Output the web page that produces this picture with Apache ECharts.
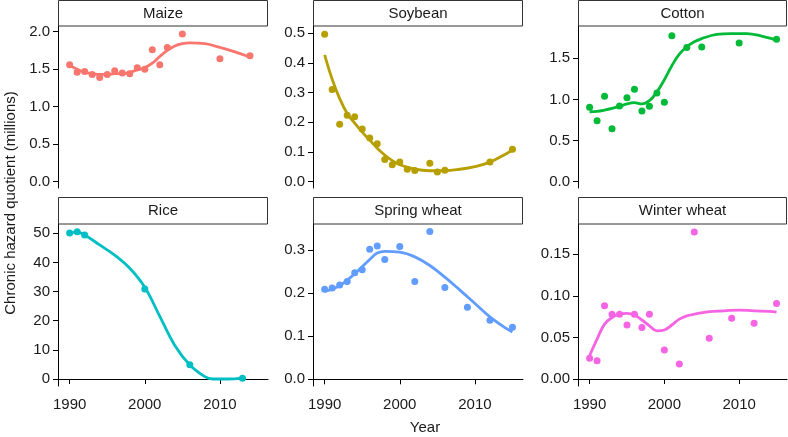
<!DOCTYPE html>
<html>
<head>
<meta charset="utf-8">
<script src="https://cdn.jsdelivr.net/npm/echarts@6/dist/echarts.min.js"></script>
<style>html,body{margin:0;padding:0;background:#fff;}#c{width:788px;height:437px;}</style>
</head>
<body>
<div id="c"></div>
<script>
// ---- Data ----
const crops = ['Maize', 'Soybean', 'Cotton', 'Rice', 'Spring wheat', 'Winter wheat'];
const colors = ['#F8766D', '#B79F00', '#00BA38', '#00BFC4', '#619CFF', '#F564E3'];
const xTicks = [1990, 2000, 2010];

const maizeYears = [1990,1991,1992,1993,1994,1995,1996,1997,1998,1999,2000,2001,2002,2003,2005,2010,2014];
const maizeValues = [1.56,1.46,1.47,1.43,1.39,1.43,1.48,1.45,1.44,1.52,1.50,1.76,1.56,1.79,1.97,1.64,1.68];
const maizeFitYears = [1990,1991,1992,1993,1994,1995,1996,1997,1998,1999,2000,2001,2002,2003,2004,2005,2006,2008,2010,2012,2014];
const maizeFitValues = [1.55,1.50,1.46,1.44,1.43,1.43,1.44,1.44,1.46,1.49,1.52,1.58,1.67,1.75,1.81,1.84,1.85,1.84,1.79,1.73,1.66];

const soyYears = [1990,1991,1992,1993,1994,1995,1996,1997,1998,1999,2000,2001,2002,2004,2005,2006,2012,2015];
const soyValues = [0.497,0.311,0.194,0.224,0.219,0.178,0.147,0.128,0.075,0.057,0.066,0.042,0.038,0.062,0.033,0.039,0.066,0.109];
const soyFitYears = [1990,1991,1992,1993,1994,1995,1996,1997,1998,1999,2000,2002,2004,2006,2008,2010,2012,2014,2015];
const soyFitValues = [0.427,0.345,0.280,0.230,0.197,0.167,0.140,0.113,0.090,0.071,0.057,0.042,0.037,0.037,0.042,0.051,0.066,0.092,0.107];

const cottonYears = [1990,1991,1992,1993,1994,1995,1996,1997,1998,1999,2000,2001,2003,2005,2010,2015];
const cottonValues = [0.904,0.742,1.038,0.645,0.920,1.021,1.123,0.859,0.916,1.078,0.965,1.775,1.630,1.638,1.686,1.731];
const cottonFitYears = [1990,1991,1992,1993,1994,1995,1996,1997,1998,1999,2000,2001,2002,2003,2004,2005,2007,2009,2011,2013,2015];
const cottonFitValues = [0.85,0.855,0.87,0.89,0.915,0.945,0.96,0.945,0.985,1.09,1.24,1.41,1.55,1.64,1.70,1.74,1.79,1.80,1.80,1.77,1.72];

const riceYears = [1990,1991,1992,2000,2006,2013];
const riceValues = [50.1,50.5,49.4,30.9,4.9,0.3];
const riceFitYears = [1990,1991,1992,1994,1996,1998,2000,2002,2004,2006,2008,2009,2011,2013];
const riceFitValues = [50.1,50.4,49.4,46.0,42.5,38.0,31.5,21.5,11.5,4.8,0.8,0.0,0.0,0.3];

const springYears = [1990,1991,1992,1993,1994,1995,1996,1997,1998,2000,2002,2004,2006,2009,2012,2015];
const springValues = [0.209,0.212,0.219,0.227,0.247,0.254,0.302,0.309,0.278,0.308,0.227,0.343,0.213,0.167,0.137,0.121];
const springFitYears = [1990,1992,1994,1996,1997,1998,2000,2002,2004,2006,2008,2010,2012,2014,2015];
const springFitValues = [0.204,0.217,0.245,0.278,0.293,0.297,0.295,0.284,0.264,0.237,0.207,0.176,0.145,0.120,0.110];

const winterYears = [1990,1991,1992,1993,1994,1995,1996,1997,1998,2000,2002,2004,2006,2009,2012,2015];
const winterValues = [0.025,0.022,0.088,0.078,0.078,0.065,0.078,0.062,0.078,0.035,0.018,0.177,0.049,0.073,0.067,0.091];
const winterFitYears = [1990,1991,1992,1993,1994,1995,1996,1997,1998,1999,2000,2001,2002,2003,2004,2006,2008,2010,2012,2014,2015];
const winterFitValues = [0.028,0.048,0.066,0.074,0.078,0.079,0.077,0.071,0.064,0.058,0.059,0.065,0.072,0.076,0.078,0.081,0.082,0.083,0.082,0.0815,0.0806];

const yTicks = [
  [0, 0.5, 1.0, 1.5, 2.0],
  [0, 0.1, 0.2, 0.3, 0.4, 0.5],
  [0, 0.5, 1.0, 1.5],
  [0, 10, 20, 30, 40, 50],
  [0, 0.1, 0.2, 0.3],
  [0, 0.05, 0.10, 0.15]
];
const yDecimals = [1, 1, 1, 0, 1, 2];

// ---- Layout ----
const FONT = '"Liberation Sans", Arial, Helvetica, sans-serif';
const FS = 15;
const colLeft = [58, 313, 578];
const colWidth = [210, 210, 209];
const rowTop = [26, 224];
const rowHeight = [162, 162];
const yRanges = [[-0.084, 2.076], [-0.0212, 0.5246], [-0.0766, 1.8926], [-2.4, 53.19], [-0.0155, 0.3603], [-0.0084, 0.1865]];
const xRange = [1988.45, 2016.4];

const pts = [
  [maizeYears, maizeValues, maizeFitYears, maizeFitValues],
  [soyYears, soyValues, soyFitYears, soyFitValues],
  [cottonYears, cottonValues, cottonFitYears, cottonFitValues],
  [riceYears, riceValues, riceFitYears, riceFitValues],
  [springYears, springValues, springFitYears, springFitValues],
  [winterYears, winterValues, winterFitYears, winterFitValues]
];

const grid = [], xAxis = [], yAxis = [], series = [], graphic = [];
crops.forEach((name, i) => {
  const r = Math.floor(i / 3), c = i % 3;
  grid.push({ left: colLeft[c], top: rowTop[r], width: colWidth[c], height: rowHeight[r], containLabel: false });
  xAxis.push({
    gridIndex: i, type: 'value', min: xRange[0], max: xRange[1], show: r === 1,
    splitLine: { show: false },
    axisLine: { show: true, lineStyle: { color: '#000', width: 1 } },
    axisTick: { show: true, length: 5, customValues: xTicks, lineStyle: { color: '#000' } },
    axisLabel: { customValues: xTicks, fontSize: FS, color: '#1a1a1a', fontFamily: FONT, margin: 11, formatter: v => String(v) }
  });
  yAxis.push({
    gridIndex: i, type: 'value', min: yRanges[i][0], max: yRanges[i][1],
    splitLine: { show: false },
    axisLine: { show: true, onZero: false, lineStyle: { color: '#000', width: 1 } },
    axisTick: { show: true, length: 5, customValues: yTicks[i], lineStyle: { color: '#000' } },
    axisLabel: { customValues: yTicks[i], fontSize: FS, color: '#1a1a1a', fontFamily: FONT, margin: 8,
      formatter: v => Number(v).toFixed(yDecimals[i]) }
  });
  const [yrs, vals, fy, fv] = pts[i];
  series.push({
    type: 'line', xAxisIndex: i, yAxisIndex: i, smooth: 0.4, showSymbol: false, silent: true,
    lineStyle: { color: colors[i], width: 2.8 }, clip: true,
    data: fy.map((y, k) => [y, fv[k]])
  });
  series.push({
    type: 'scatter', xAxisIndex: i, yAxisIndex: i, symbolSize: 7, silent: true, clip: false,
    itemStyle: { color: colors[i], opacity: 1 },
    data: yrs.map((y, k) => [y, vals[k]])
  });
  // facet strip
  const sy = r === 0 ? 0.5 : 197.5;
  const sh = r === 0 ? 25.5 : 26.5;
  graphic.push({ type: 'rect', shape: { x: colLeft[c] + 0.5, y: sy, width: colWidth[c] - 1, height: sh },
    style: { fill: '#fff', stroke: '#333', lineWidth: 1 }, z: 10 });
  graphic.push({ type: 'text', x: colLeft[c] + colWidth[c] / 2, y: sy + sh / 2 + 0.5,
    style: { text: name, fill: '#1a1a1a', font: FS + 'px ' + FONT, textAlign: 'center', textVerticalAlign: 'middle' }, z: 11 });
});
graphic.push({ type: 'text', x: 425, y: 428, style: { text: 'Year', font: FS + 'px ' + FONT, fill: '#1a1a1a', textAlign: 'center', textVerticalAlign: 'middle' } });
graphic.push({ type: 'text', x: 11, y: 203, rotation: Math.PI / 2,
  style: { text: 'Chronic hazard quotient (millions)', font: FS + 'px ' + FONT, fill: '#1a1a1a', textAlign: 'center', textVerticalAlign: 'middle' } });

const chart = echarts.init(document.getElementById('c'), null, { renderer: 'canvas' });
chart.setOption({ animation: false, backgroundColor: '#fff', grid, xAxis, yAxis, series, graphic });
</script>
</body>
</html>
